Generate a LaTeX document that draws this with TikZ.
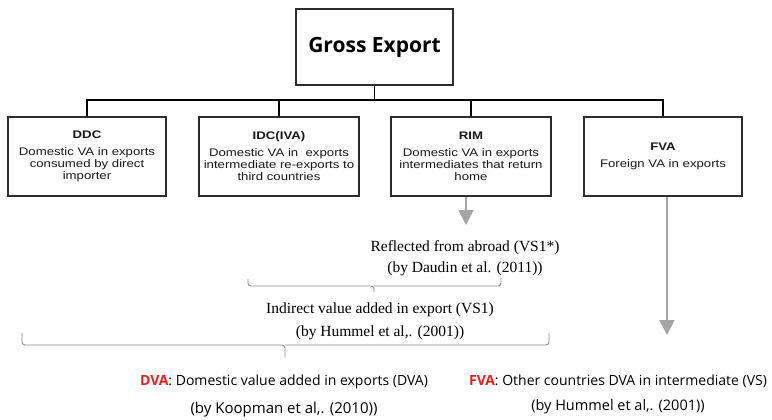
\documentclass[tikz,border=0pt]{standalone}
\usepackage{fontspec}
\setmainfont{Liberation Serif}
\newfontfamily\boxfont[FakeStretch=1.2]{Liberation Sans}
\newfontfamily\kfont{Open Sans}
\usetikzlibrary{arrows.meta}
\definecolor{boxline}{RGB}{45,45,45}
\definecolor{boxtext}{RGB}{25,25,25}
\definecolor{arrgray}{RGB}{165,165,165}
\definecolor{brgray}{RGB}{140,140,140}
\definecolor{hred}{RGB}{235,30,30}
\tikzset{
  mainbox/.style={draw=boxline, line width=1.2pt, minimum width=157pt, minimum height=76pt, inner sep=0pt,
    font=\kfont\bfseries\fontsize{21}{24}\selectfont},
  compbox/.style={draw=boxline, line width=1.2pt, minimum height=79pt, inner sep=0pt, align=center,
    text=boxtext, font=\boxfont\fontsize{11}{12}\selectfont},
  tree/.style={draw=black, line width=1.1pt},
  grayarrow/.style={draw=arrgray, line width=1.6pt, -{Triangle[width=15pt,length=15pt]}},
  bracket/.style={draw=brgray, line width=0.9pt, rounded corners=3pt},
  serifnote/.style={align=center, inner sep=0pt, text=black},
  sansnote/.style={align=center, inner sep=0pt, text=black}
}
\begin{document}
\begin{tikzpicture}[x=1pt,y=-1pt]
\useasboundingbox[fill=white] (0,0) rectangle (772,420);
\node[mainbox] (ge) at (374.5,47) {Gross Export};
\node[compbox, minimum width=158pt] (ddc) at (87,156.5) {\textbf{DDC}\\[5pt]Domestic VA in exports\\consumed by direct\\importer};
\node[compbox, minimum width=160pt] (idc) at (279,156.5) {\textbf{IDC(IVA)}\\[5pt]Domestic VA in\ \ exports\\intermediate re-exports to\\third countries};
\node[compbox, minimum width=160pt] (rim) at (471,156.5) {\textbf{RIM}\\[5pt]Domestic VA in exports\\intermediates that return\\home};
\node[compbox, minimum width=158pt] (fva) at (663,156.5) {\textbf{FVA}\\[5pt]Foreign VA in exports};
\coordinate (bus) at (0,100);
\draw[tree] (ddc.north) -- (ddc.north |- bus) -- (fva.north |- bus) -- (fva.north);
\draw[tree] (idc.north) -- (idc.north |- bus);
\draw[tree] (rim.north) -- (rim.north |- bus);
\draw[tree] (ge.south) -- (ge.south |- bus);
\coordinate (rimend) at (466,225);
\coordinate (fvaend) at (667,335);
\draw[grayarrow] ([xshift=-5pt]rim.south) -- (rimend);
\draw[grayarrow] ([xshift=4pt]fva.south) -- (fvaend);
\node[serifnote, font=\fontsize{15.5}{21}\selectfont] (refl) at (465,258) {Reflected from abroad (VS1*)\\(by Daudin et al. (2011))};
\draw[bracket] (248,279) -- (248,286) -- (374,286) -- (374,292);
\draw[bracket] (501,278) -- (501,286) -- (374,286);
\node[serifnote, font=\fontsize{15.5}{23}\selectfont] (ind) at (380,321) {Indirect value added in export (VS1)\\(by Hummel et al,. (2001))};
\draw[bracket] (22,333) -- (22,345) -- (285,345) -- (285,357);
\draw[bracket] (549,333) -- (549,345) -- (285,345);
\node[sansnote, font=\kfont\fontsize{14}{28}\selectfont] (dva) at (284,396) {\textcolor{hred}{\bfseries DVA}: Domestic value added in exports (DVA)\\{\fontsize{15}{28}\selectfont(by Koopman et al,. (2010))}};
\node[sansnote, font=\kfont\fontsize{14}{25}\selectfont] (fvat) at (618,394.5) {\textcolor{hred}{\bfseries FVA}: Other countries DVA in intermediate (VS)\\{\fontsize{14.5}{25}\selectfont(by Hummel et al,. (2001))}};
\end{tikzpicture}
\end{document}
